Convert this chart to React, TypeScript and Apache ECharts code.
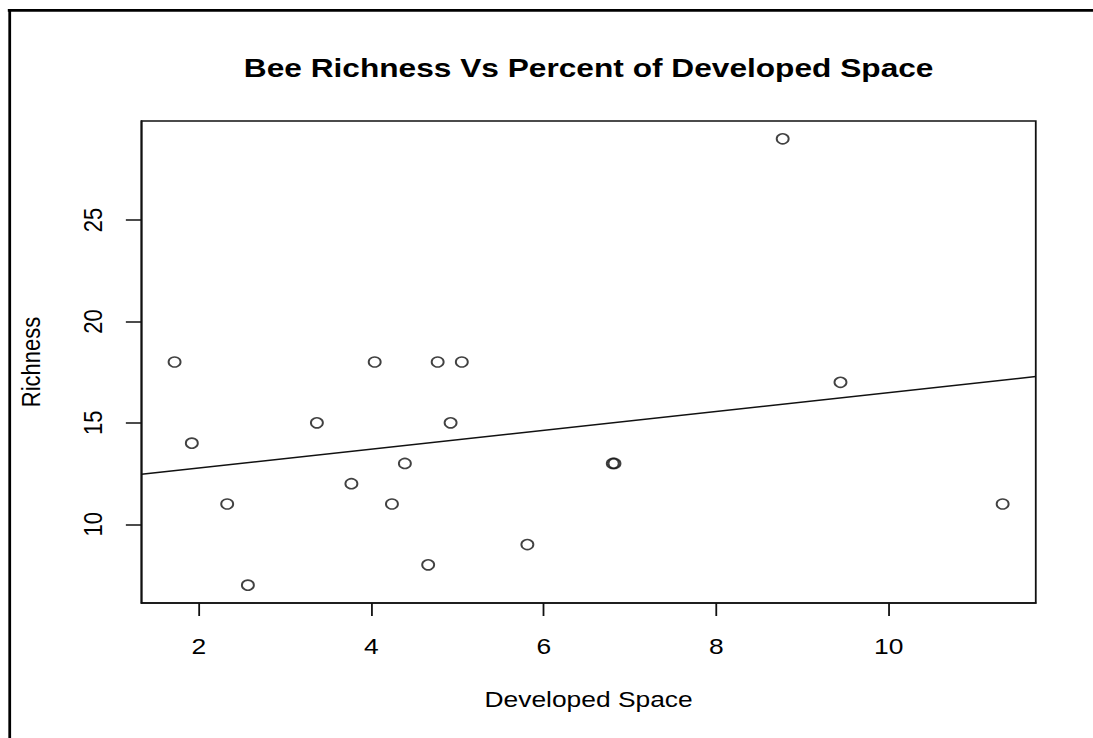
import React, { useEffect, useRef } from "react";
import * as echarts from "echarts";

// Percent of developed space around each site and the bee species richness found there
const developedSpace = [
  1.72, 1.92, 2.33, 2.57, 3.37, 3.77, 4.04, 4.24, 4.39, 4.66, 4.77, 4.92, 5.05,
  5.81, 6.8, 6.82, 8.77, 9.44, 11.32,
];
const richness = [
  18, 14, 11, 7, 15, 12, 18, 11, 13, 8, 18, 15, 18, 9, 13, 13, 29, 17, 11,
];

const xTicks = [2, 4, 6, 8, 10];
const yTicks = [10, 15, 20, 25];

const TITLE = "Bee Richness Vs Percent of Developed Space";
const X_NAME = "Developed Space";
const Y_NAME = "Richness";

const FONT = '"Liberation Sans", Arial, Helvetica, sans-serif';

// The drawing is laid out on a narrower canvas and widened horizontally.
const OUT_W = 1093;
const OUT_H = 738;
const INNER_W = 911;
const STRETCH = OUT_W / INNER_W;

// Axis ranges padded by 4% on each side, like base graphics do.
function paddedRange(values: number[]): [number, number] {
  const lo = Math.min(...values);
  const hi = Math.max(...values);
  const pad = (hi - lo) * 0.04;
  return [lo - pad, hi + pad];
}

// Ordinary least-squares fit of richness on developed space.
function leastSquares(xs: number[], ys: number[]) {
  const n = xs.length;
  const mx = xs.reduce((a, b) => a + b, 0) / n;
  const my = ys.reduce((a, b) => a + b, 0) / n;
  let sxy = 0;
  let sxx = 0;
  for (let i = 0; i < n; i++) {
    sxy += (xs[i] - mx) * (ys[i] - my);
    sxx += (xs[i] - mx) * (xs[i] - mx);
  }
  const slope = sxy / sxx;
  return { slope, intercept: my - slope * mx };
}

export default function App() {
  const ref = useRef<HTMLDivElement>(null);

  useEffect(() => {
    document.body.style.margin = "0";
    if (!ref.current) return;
    const chart = echarts.init(ref.current, undefined, { renderer: "svg" });

    const [xMin, xMax] = paddedRange(developedSpace);
    const [yMin, yMax] = paddedRange(richness);
    const fit = leastSquares(developedSpace, richness);
    const fitLine = [
      [xMin, fit.intercept + fit.slope * xMin],
      [xMax, fit.intercept + fit.slope * xMax],
    ];
    const points = developedSpace.map((x, i) => [x, richness[i]]);

    const gridLeft = 117.9;
    const gridTop = 121;
    const gridWidth = 745.4;
    const gridHeight = 482;

    chart.setOption({
      animation: false,
      backgroundColor: "#ffffff",
      grid: {
        left: gridLeft,
        top: gridTop,
        width: gridWidth,
        height: gridHeight,
        show: true,
        borderColor: "#111",
        borderWidth: 1.5,
        containLabel: false,
      },
      xAxis: {
        type: "value",
        min: xMin,
        max: xMax,
        splitLine: { show: false },
        axisLine: { show: true, lineStyle: { color: "#111", width: 1.5 } },
        axisTick: {
          show: true,
          length: 13,
          customValues: xTicks,
          lineStyle: { color: "#111", width: 1.5 },
        },
        axisLabel: {
          customValues: xTicks,
          fontSize: 22,
          fontFamily: FONT,
          color: "#000",
          margin: 32,
        },
        name: X_NAME,
        nameLocation: "middle",
        nameGap: 85,
        nameTextStyle: { fontSize: 22, fontFamily: FONT, color: "#000" },
      },
      yAxis: {
        type: "value",
        min: yMin,
        max: yMax,
        splitLine: { show: false },
        axisLine: { show: true, lineStyle: { color: "#111", width: 1.5 } },
        axisTick: {
          show: true,
          length: 13,
          customValues: yTicks,
          lineStyle: { color: "#111", width: 1.5 },
        },
        axisLabel: {
          customValues: yTicks,
          rotate: 90,
          fontSize: 22,
          fontFamily: FONT,
          color: "#000",
          margin: 30,
        },
        name: Y_NAME,
        nameLocation: "middle",
        nameRotate: 90,
        nameGap: 81,
        nameTextStyle: { fontSize: 22, fontFamily: FONT, color: "#000" },
      },
      series: [
        {
          type: "line",
          data: fitLine,
          symbol: "none",
          silent: true,
          lineStyle: { color: "#111", width: 1.5 },
          z: 1,
        },
        {
          type: "scatter",
          data: points,
          symbol: "circle",
          symbolSize: 10,
          itemStyle: {
            color: "rgba(255,255,255,0)",
            borderColor: "#111",
            borderWidth: 1.6,
          },
          z: 2,
        },
      ],
      graphic: [
        {
          type: "line",
          shape: { x1: 6.5, y1: 10.3, x2: INNER_W, y2: 10.3 },
          style: { stroke: "#000", lineWidth: 2.7 },
        },
        {
          type: "line",
          shape: { x1: 8.1, y1: 9, x2: 8.1, y2: OUT_H },
          style: { stroke: "#000", lineWidth: 2.3 },
        },
        {
          type: "text",
          x: gridLeft + gridWidth / 2,
          y: 68,
          style: {
            text: TITLE,
            fontSize: 26.4,
            fontWeight: "bold",
            fontFamily: FONT,
            fill: "#000",
            textAlign: "center",
            textVerticalAlign: "middle",
            align: "center",
            verticalAlign: "middle",
          },
        },
      ],
    });

    return () => chart.dispose();
  }, []);

  return (
    <div
      style={{
        width: OUT_W,
        height: OUT_H,
        overflow: "hidden",
        position: "relative",
        background: "#fff",
      }}
    >
      <div
        ref={ref}
        style={{
          width: INNER_W,
          height: OUT_H,
          transform: `scaleX(${STRETCH})`,
          transformOrigin: "0 0",
        }}
      />
    </div>
  );
}
